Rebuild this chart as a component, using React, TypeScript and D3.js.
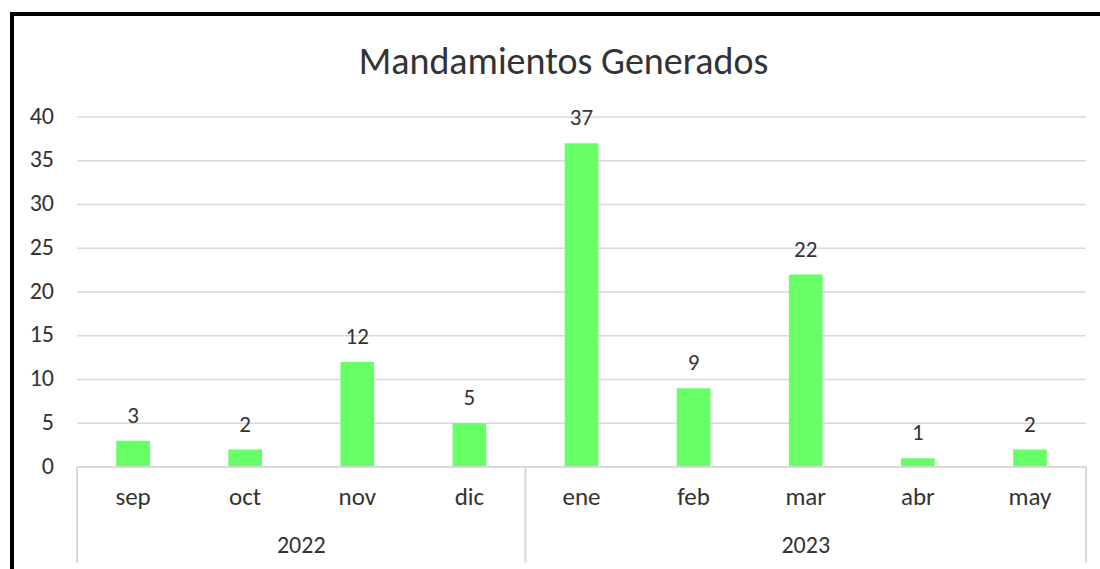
import React from "react";
import * as d3 from "d3";

const title = "Mandamientos Generados";
const months = ["sep", "oct", "nov", "dic", "ene", "feb", "mar", "abr", "may"];
const monthYears = ["2022", "2022", "2022", "2022", "2023", "2023", "2023", "2023", "2023"];
const values = [3, 2, 12, 5, 37, 9, 22, 1, 2];
const yTicks = [0, 5, 10, 15, 20, 25, 30, 35, 40];

const W = 1100;
const H = 569;
const left = 77;
const right = 1086;
const top = 117;
const bottom = 467;
const FONT = "Carlito, Calibri, 'Open Sans', sans-serif";
const TXT = "#333333";
const GRID = "#d9d9d9";

export default function App() {
  const x = d3
    .scaleBand<string>()
    .domain(months)
    .range([left, right])
    .paddingInner(0.7)
    .paddingOuter(0.35);
  const cell = d3.scaleBand<string>().domain(months).range([left, right]).padding(0);
  const y = d3.scaleLinear().domain([0, 40]).range([bottom, top]);

  const years = Array.from(new Set(monthYears));
  const groups = years.map((yr) => {
    const ms = months.filter((_, i) => monthYears[i] === yr);
    const x0 = cell(ms[0]) as number;
    const x1 = (cell(ms[ms.length - 1]) as number) + cell.bandwidth();
    return { yr, x0, x1 };
  });
  const dividers = [left, ...groups.map((g) => g.x1)];

  return (
    <svg
      width={W}
      height={H}
      style={{ position: "fixed", left: 0, top: 0, background: "#fff" }}
    >
      <rect x={0} y={0} width={W} height={H} fill="#fff" />
      <rect x={12} y={14} width={1300} height={1000} fill="none" stroke="#000" strokeWidth={4} />
      <text
        x={563.5}
        y={74}
        textAnchor="middle"
        fontFamily={FONT}
        fontSize={38}
        fill={TXT}
      >
        {title}
      </text>
      {yTicks.map((t) => (
        <g key={t}>
          {t > 0 && (
            <line x1={left} x2={right} y1={y(t)} y2={y(t)} stroke={GRID} strokeWidth={1.6} />
          )}
          <text
            x={54}
            y={y(t) + 6.5}
            textAnchor="end"
            fontFamily={FONT}
            fontSize={24}
            fill={TXT}
          >
            {t}
          </text>
        </g>
      ))}
      {values.map((v, i) => (
        <g key={months[i]}>
          <rect
            x={x(months[i])}
            y={y(v)}
            width={x.bandwidth()}
            height={bottom - y(v)}
            fill="#66FF66"
          />
          <text
            x={(x(months[i]) as number) + x.bandwidth() / 2}
            y={y(v) - 18}
            textAnchor="middle"
            fontFamily={FONT}
            fontSize={23}
            fill={TXT}
          >
            {v}
          </text>
          <text
            x={(x(months[i]) as number) + x.bandwidth() / 2}
            y={505}
            textAnchor="middle"
            fontFamily={FONT}
            fontSize={25}
            fill={TXT}
          >
            {months[i]}
          </text>
        </g>
      ))}
      <line x1={left} x2={right} y1={bottom} y2={bottom} stroke={GRID} strokeWidth={2} />
      {dividers.map((dx, i) => (
        <line key={i} x1={dx} x2={dx} y1={bottom} y2={563} stroke={GRID} strokeWidth={2} />
      ))}
      {groups.map((g) => (
        <text
          key={g.yr}
          x={(g.x0 + g.x1) / 2}
          y={553}
          textAnchor="middle"
          fontFamily={FONT}
          fontSize={24}
          fill={TXT}
        >
          {g.yr}
        </text>
      ))}
    </svg>
  );
}
